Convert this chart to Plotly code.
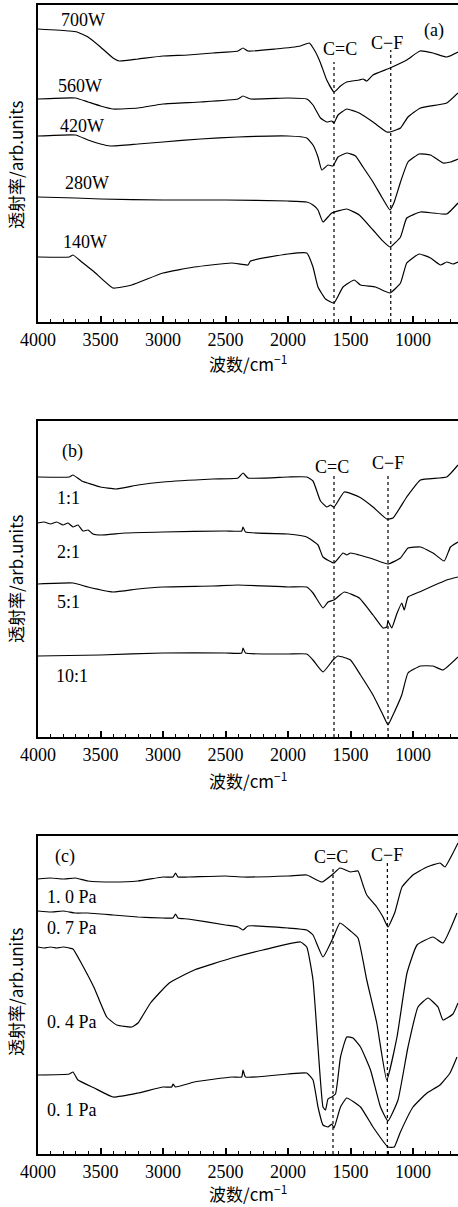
import plotly.graph_objects as go

# ---------------- data: panel (a) microwave power ----------------
wn_700 = [4000,3750,3688,3600,3500,3400,3350,3200,3000,2800,2600,2400,2360,2320,2100,1900,1830,1780,1740,1690,1632,1580,1530,1430,1400,1370,1320,1184,1050,944,840,730,640]
t_700 = [293,291,290,285,275,264,261,263,266,267,269,271,274,271,273,276,279,270,259,242,230,236,240,242,243,241,247,254,262,271,269,265,270]

wn_560 = [4000,3700,3600,3500,3400,3200,3000,2700,2400,2360,2300,2000,1850,1800,1740,1690,1650,1632,1600,1530,1430,1320,1210,1184,1100,1040,940,730,640]
t_560 = [223,224,220,216,213,214,218,220,223,226,223,224,223,217,204,200,201,199,207,213,209,200,190,190,194,205,214,219,229]

wn_420 = [4000,3700,3600,3500,3420,3200,3000,2700,2400,2000,1850,1800,1760,1730,1680,1640,1600,1530,1460,1400,1320,1250,1184,1150,1100,1040,950,860,760,700,640]
t_420 = [186,187,182,178,176,178,180,183,185,186,184,177,165,152,157,156,165,169,166,155,140,125,112,120,140,160,168,167,159,160,163]

wn_280 = [4000,3700,3500,3000,2500,2000,1850,1800,1760,1720,1650,1530,1430,1320,1250,1184,1100,1050,940,840,730,640]
t_280 = [125,124,123,122,122,121,120,117,112,100,109,113,107,92,82,75,85,104,110,109,108,119]

wn_140 = [4000,3750,3720,3650,3550,3400,3250,3000,2750,2450,2320,2300,2000,1850,1800,1760,1700,1632,1560,1470,1420,1300,1184,1100,1050,950,860,780,730,680,640]
t_140 = [65,65,67,60,50,34,37,49,55,59,57,61,68,69,55,35,23,19,35,42,37,35,29,39,59,68,64,57,60,58,60]

# ---------------- data: panel (b) gas ratio ----------------
wn_11 = [4000,3750,3720,3650,3500,3380,3200,3000,2600,2400,2360,2320,2000,1850,1800,1740,1690,1660,1632,1550,1430,1320,1210,1160,1050,940,730,640]
t_11 = [260,260,262,256,250,248,252,255,258,259,264,259,260,260,256,236,230,232,230,245,240,230,218,219,240,257,260,272]

wn_21 = [4000,3950,3900,3850,3800,3760,3720,3680,3640,3600,3560,3500,3300,3000,2500,2370,2360,2340,2000,1850,1760,1720,1632,1560,1530,1500,1430,1320,1200,1100,1040,940,840,750,700,640]
t_21 = [214,215,213,215,212,214,210,212,206,207,203,202,204,205,206,206,210,205,203,200,192,180,174,184,182,184,182,178,173,179,189,190,184,176,190,195]

wn_51 = [4000,3720,3600,3400,3200,3000,2600,2400,2000,1850,1800,1720,1680,1632,1550,1430,1320,1240,1210,1200,1170,1130,1090,1070,1040,950,730,640]
t_51 = [153,154,150,145,148,150,151,152,150,150,144,129,135,137,145,139,122,109,110,116,109,123,134,127,140,145,157,160]

wn_101 = [4000,3500,3000,2500,2370,2360,2340,2000,1850,1800,1720,1640,1600,1500,1420,1320,1240,1200,1160,1090,1040,940,840,760,640]
t_101 = [81,82,84,84,84,89,84,83,83,77,65,77,81,77,62,42,22,12,22,42,64,71,71,67,80]

# ---------------- data: panel (c) pressure ----------------
wn_10 = [4000,3900,3800,3700,3600,3400,3200,3000,2920,2900,2880,2800,2500,2360,2000,1850,1800,1728,1640,1584,1500,1440,1400,1370,1290,1240,1200,1144,1088,1000,888,784,744,680,640]
t_10 = [275,276,275,276,273,272,273,277,277,281,277,277,278,277,278,279,276,272,280,286,282,283,269,259,247,237,227,242,267,279,287,291,287,301,311]

wn_07 = [4000,3900,3800,3700,3600,3400,3200,3000,2920,2900,2880,2800,2500,2400,2360,2320,2000,1850,1800,1720,1640,1584,1500,1440,1370,1290,1210,1128,1048,968,840,760,648]
t_07 = [243,242,243,241,241,239,237,236,236,240,236,235,229,227,224,228,226,224,219,197,216,231,223,216,174,131,74,117,181,209,217,211,241]

wn_04 = [4000,3950,3900,3850,3800,3750,3720,3650,3550,3450,3370,3250,3200,3100,2950,2750,2450,2200,1900,1850,1800,1760,1720,1700,1680,1650,1620,1580,1530,1480,1420,1340,1260,1200,1120,1040,960,880,800,760,680,640]
t_04 = [207,206,207,206,207,206,205,190,166,137,129,127,131,151,171,184,196,204,212,207,174,107,47,44,55,57,60,97,117,116,107,84,47,33,54,107,147,156,147,134,140,151]

wn_01 = [4000,3750,3720,3680,3550,3400,3200,3000,2930,2920,2900,2750,2450,2370,2360,2340,2000,1850,1800,1760,1720,1680,1650,1632,1580,1530,1420,1320,1200,1150,1104,1000,888,784,704,648]
t_01 = [79,80,82,74,66,57,61,67,67,70,67,72,77,77,84,77,80,81,74,47,29,27,30,26,47,56,47,27,7,7,21,47,61,69,81,97]

panel_a = [("700W", wn_700, t_700), ("560W", wn_560, t_560), ("420W", wn_420, t_420),
           ("280W", wn_280, t_280), ("140W", wn_140, t_140)]
panel_b = [("1:1", wn_11, t_11), ("2:1", wn_21, t_21), ("5:1", wn_51, t_51), ("10:1", wn_101, t_101)]
panel_c = [("1. 0 Pa", wn_10, t_10), ("0. 7 Pa", wn_07, t_07), ("0. 4 Pa", wn_04, t_04), ("0. 1 Pa", wn_01, t_01)]

# label positions (wavenumber, value)
labels_a = [(3640, 302), (3664, 236), (3648, 196), (3608, 139), (3624, 80)]
labels_b = [(3760, 239), (3760, 185), (3760, 135), (3728, 61)]
labels_c = [(3728, 257), (3728, 226), (3728, 132), (3728, 44)]

panel_names = ["(a)", "(b)", "(c)"]
cc_pos = [1632, 1632, 1640]
cf_pos = [1178, 1200, 1205]

FONT = "Liberation Serif, Times New Roman, Noto Sans CJK SC"
CJK = "Noto Sans CJK SC, Liberation Serif"

fig = go.Figure()
panels = [panel_a, panel_b, panel_c]
labels = [labels_a, labels_b, labels_c]
for i, (pan, lab) in enumerate(zip(panels, labels)):
    sx = "x" if i == 0 else f"x{i+1}"
    sy = "y" if i == 0 else f"y{i+1}"
    for (name, wn, t), (lx, ly) in zip(pan, lab):
        fig.add_trace(go.Scatter(x=wn, y=t, mode="lines", name=name,
                                 line=dict(color="black", width=1.2, shape="spline", smoothing=0.4),
                                 xaxis=sx, yaxis=sy, showlegend=False))
        fig.add_annotation(x=lx, y=ly, xref=sx, yref=sy, text=name, showarrow=False,
                           font=dict(family=FONT, size=18, color="black"))

H = 1207
T, B = 5, 53
plot_h = H - T - B

def py(y):
    return (1154 - y) / plot_h

def px(x):
    return (x - 38) / 420

doms = [(py(322), py(5)), (py(737), py(421)), (py(1154), py(836))]
yranges = [[0, 317], [0, 316], [0, 318]]

axis_common = dict(range=[4000, 640], showline=True, linewidth=2, linecolor="black", mirror=True,
                   ticks="inside", ticklen=6, tickwidth=1.5, tickcolor="black",
                   tickvals=[4000, 3500, 3000, 2500, 2000, 1500, 1000],
                   ticktext=["4000", "3500", "3000", "2500", "2000", "1500", "1000"],
                   minor=dict(dtick=100, ticks="inside", ticklen=3, tickwidth=1.2, tickcolor="black",
                              tick0=4000, showgrid=False),
                   showgrid=False, zeroline=False,
                   tickfont=dict(family=FONT, size=18, color="black"))

layout = dict(width=458, height=H, margin=dict(l=38, r=0, t=T, b=B),
              paper_bgcolor="white", plot_bgcolor="white", showlegend=False)
for i in range(3):
    xk = "xaxis" if i == 0 else f"xaxis{i+1}"
    yk = "yaxis" if i == 0 else f"yaxis{i+1}"
    ya = "y" if i == 0 else f"y{i+1}"
    xa = "x" if i == 0 else f"x{i+1}"
    layout[xk] = dict(axis_common, anchor=ya, domain=[0, 1])
    layout[yk] = dict(range=yranges[i], domain=list(doms[i]), anchor=xa, showline=True, linewidth=2,
                      linecolor="black", mirror=False, showticklabels=False, ticks="",
                      showgrid=False, zeroline=False)
fig.update_layout(**layout)

# peak markers (dotted lines) and texts
cc_top = [260, 262, 286]
cf_top = [272, 262, 291]
cc_txt = [(1584, 273), (1648, 270), (1656, 297)]
cf_txt = [(1208, 279), (1200, 274), (1208, 299)]
name_pos = [(832, 292), (3728, 285), (3784, 297)]
for i in range(3):
    sx = "x" if i == 0 else f"x{i+1}"
    sy = "y" if i == 0 else f"y{i+1}"
    for xv, top in ((cc_pos[i], cc_top[i]), (cf_pos[i], cf_top[i])):
        fig.add_shape(type="line", xref=sx, yref=sy, x0=xv, x1=xv, y0=0, y1=top,
                      line=dict(color="black", width=1.2, dash="dot"))
    fig.add_annotation(x=cc_txt[i][0], y=cc_txt[i][1], xref=sx, yref=sy, text="C=C", showarrow=False,
                       font=dict(family=FONT, size=18, color="black"))
    fig.add_annotation(x=cf_txt[i][0], y=cf_txt[i][1], xref=sx, yref=sy, text="C\u2212F", showarrow=False,
                       font=dict(family=FONT, size=18, color="black"))
    fig.add_annotation(x=name_pos[i][0], y=name_pos[i][1], xref=sx, yref=sy, text=panel_names[i],
                       showarrow=False, font=dict(family=FONT, size=18, color="black"))

# axis titles
xt_y = [363, 780, 1193]
yt_y = [165, 579, 992]
for i in range(3):
    fig.add_annotation(x=0.5, y=py(xt_y[i]), xref="paper", yref="paper", showarrow=False,
                       text="波数/cm<sup>−1</sup>", font=dict(family=CJK, size=17, color="black"),
                       xanchor="center", yanchor="middle")
    fig.add_annotation(x=px(15), y=py(yt_y[i]), xref="paper", yref="paper", showarrow=False,
                       text="透射率/arb.units", textangle=-90,
                       font=dict(family=CJK, size=17, color="black"),
                       xanchor="center", yanchor="middle")

fig.write_html("out.html", config={"responsive": False, "displayModeBar": False},
               post_script="document.body.style.margin='0px';document.body.style.overflow='hidden';")
